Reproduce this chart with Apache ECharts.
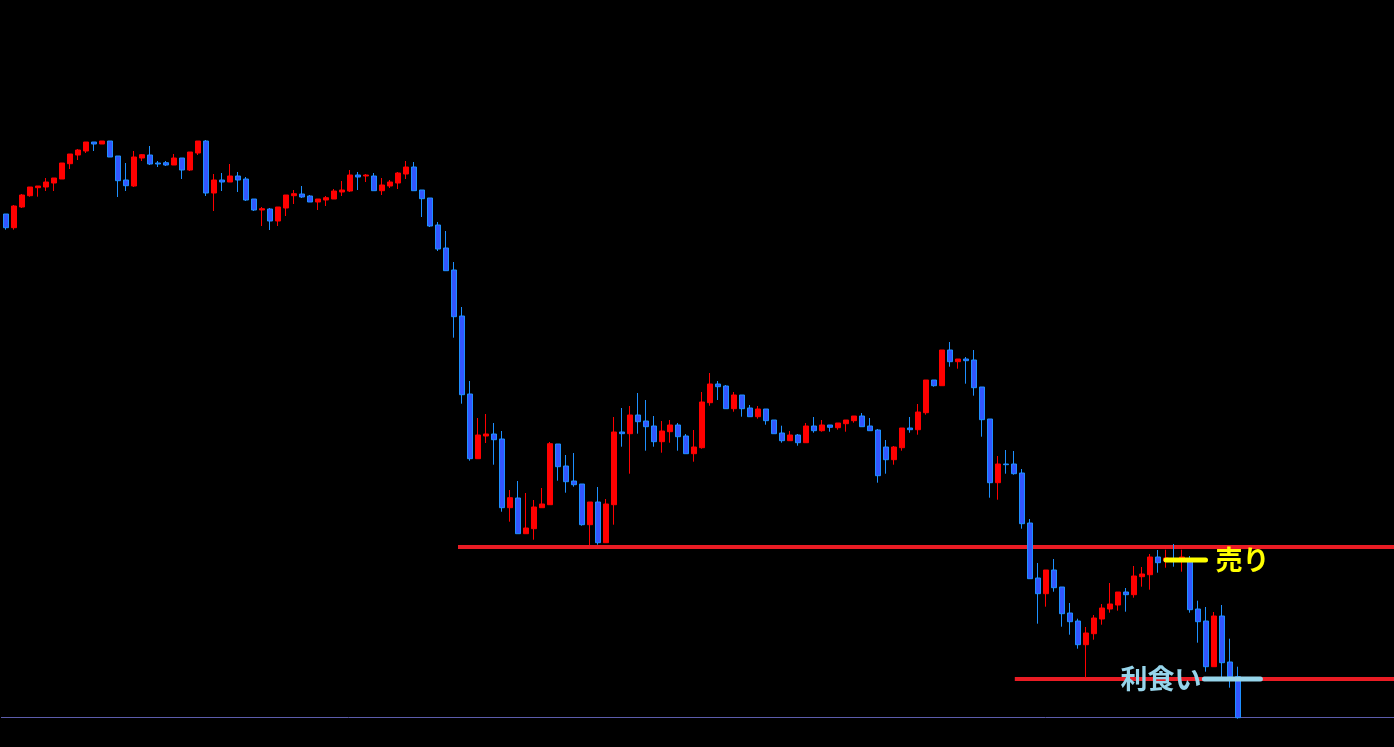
<!DOCTYPE html>
<html>
<head>
<meta charset="utf-8">
<script src="https://cdn.jsdelivr.net/npm/echarts@6/dist/echarts.min.js"></script>
<style>
html,body{margin:0;padding:0;background:#000;}
#chart{width:1394px;height:747px;}
</style>
</head>
<body>
<div id="chart"></div>
<script>
// candle data: [open, close, low, high] (price units, 0 = bottom axis line)
const candles = [
[503,489.3,487.3,503],[489.3,511,487.3,512],[510,522,509,523],[521.3,530,520.3,530],
[529.3,531,520.3,531],[530,535,526,539],[534,539,526,539],[538,554,538,554],[553.3,563,548,563],
[562,567,557,568],[566,575,564,575],[575,573,566,575],[573,576,573,576],[576,560,560,576],
[561,536.3,520,561],[537,531.3,526,554],[531,560,530,566],[559,562.3,556,563],[562,553,552,571],
[554,553,550,556],[554.3,552,551,556],[552,559,552,563],[559,547,538,559],[547,565,546,565],
[564,576,562,576],[576,524,521,577],[524,537,506,543],[537,535,526,544],[535,541,535,553],
[541,537,525,545],[538,517,516,540],[518,507,506,518],[507,508.3,491,510],[508,496,487,509],
[496,510,491,510],[509,522,501,522],[521.3,523.3,513,527],[523,520,519,531],[521,515,515,522],
[515,518,507,518],[517,519.3,511,521],[518,526,518,528],[525,527,521,536],[526,542,525,547],
[542,540,527,545],[541,542,535,543],[541,526.3,526.3,544],[526.3,532,522,539],[531,535,529,537],
[534,544,528,545],[543,550,538,556],[550,526.3,526.3,555],[527,518.3,500,527],[519,491,490,519],
[492,468,466,495],[469,446.3,446.3,486],[447,400.3,379.3,455],[401,322.3,313.3,410],[323,258.3,256.3,336],
[258.3,282,258.3,299],[281,283,274,303],[283,277.3,252.3,294],[278,209.3,205.3,286],[209.3,219.3,195.3,227],
[219,183.3,183.3,236],[183.3,189,183.3,224],[188.3,210,177.3,217],[209.3,213,209.3,229],[212.3,273.3,212.3,275],
[273,250.3,236.3,273],[251,235.3,224.3,262],[236,232.3,230.3,264],[233,192.3,191.3,233],[192.3,215,172,215],
[215,174.3,172.3,230],[174.3,213,174.3,218],[212.3,285,192.3,300],[285,283.3,270.3,309],[283.3,302,243.3,311],
[302,295.3,283.3,324],[296,290.3,266.3,317],[291,275.3,270.3,301],[275.3,286,264.3,296],[285.3,292,274.3,297],
[292,280.3,266.3,294],[281,263.3,263.3,283],[263.3,270,255.3,287],[269.3,315,268.3,325],[314.3,333,311.3,344],
[333,330.3,317,336],[331,308.3,308.3,332],[308.3,322,305.3,325],[322,308.3,300.3,322],[309,300.3,300.3,312],
[300.3,308,298.3,311],[308,296.3,292.3,308],[297,283.3,283.3,297],[284,276.3,274.3,291.3],[276.3,282,276.3,286],
[282,274.3,271.3,283],[274.3,291,274.3,294],[291,286.3,284.3,300],[286.3,292,285.3,297],[292,289.7,285.3,292],
[289.3,294,287.3,294],[293.3,297,285.3,297],[296.3,301,294.3,301],[301,290.3,290.3,304],[291,286.3,286.3,299],
[287,241.3,234.3,288],[270,257.3,243.3,277],[257.3,270,252.3,271],[269.3,289,266.3,289],[289,287.3,284.3,300],
[287.3,305,282.3,313],[304.3,337,302.3,337],[337,331.3,330.3,337],[331.3,367,331.3,367],[367,355.3,350.3,375],
[355.3,358,348.3,358],[358,356.3,333.3,360],[357,329.3,321.3,367],[330,297.3,280.3,330],[298,234.3,219.3,298],
[234.3,253,217.3,261],[253,252.3,243.3,267],[253,243.3,242.3,266],[244,193.3,188.3,248],[194,138.3,138.3,198],
[139,123.3,93.3,154],[123.3,147,110.3,147],[147,129.3,125.3,158],[130,103.3,90.3,130],[104,95.3,82.3,114],
[96,72.3,68.3,98.3],[72.3,84,39.3,90],[83.3,99,77.3,102],[98,109,92.3,113],[108,113,104.3,134],
[112,125,106.3,125],[125,122.3,105.3,129],[122.3,141,119.3,151],[140.3,143,130.3,150],[142.3,160,127.3,163],
[160,154.3,144.3,167],[156,159,149.3,167.3],[158,156,150.3,173],[156,160,145.3,167.3],[155.3,107.3,104.3,161],
[108,95.3,74.3,116.3],[96,50.3,45.3,110],[50.3,101,50.3,105],[101,54.3,37,112],[55,40.3,29.3,78.3],
[40.3,-0.7,-1.7,50.3]
];
const totalSlots = 174;
const categories = Array.from({length: totalSlots}, (_, i) => 'T' + i);

// horizontal level lines: [startIndex, endIndex, level]
const baseLine = [-0.75, 173.5, -0.5];
const resistanceLine = [56.5, 173.5, 170];
const targetLine = [126.1, 173.5, 38];
const sellLine = [145.0, 149.94, 157];
const takeProfitLine = [149.8, 156.8, 38];
const sellLabel = '売り';
const takeProfitLabel = '利食い';

function seg(a) { return [[a[0], a[2]], [a[1], a[2]]]; }

const chart = echarts.init(document.getElementById('chart'), null, {renderer: 'canvas'});
chart.setOption({
  backgroundColor: '#000000',
  animation: false,
  grid: {left: 2, right: 0, top: 0, bottom: 0},
  xAxis: [
    {type: 'category', data: categories, boundaryGap: true,
     axisLine: {show: false}, axisTick: {show: false}, axisLabel: {show: false}, splitLine: {show: false}},
    {type: 'value', min: -0.5, max: totalSlots - 0.5, show: false}
  ],
  yAxis: {type: 'value', min: -30, max: 717, show: false, splitLine: {show: false},
          axisLine: {show: false}},
  series: [
    {type: 'line', xAxisIndex: 1, data: seg(baseLine), symbol: 'none', clip: false,
     lineStyle: {color: '#5c5cac', width: 1}, z: 0},
    {type: 'line', xAxisIndex: 1, data: seg(resistanceLine), symbol: 'none',
     lineStyle: {color: '#ea1c24', width: 4}, z: 1},
    {type: 'line', xAxisIndex: 1, data: seg(targetLine), symbol: 'none',
     lineStyle: {color: '#ea1c24', width: 4}, z: 1},
    {type: 'candlestick', xAxisIndex: 0, data: candles, barWidth: 5, clip: false,
     itemStyle: {color: '#ff0000', borderColor: '#ff0000', color0: '#3356ff', borderColor0: '#1e90ff', borderWidth: 1},
     z: 2},
    {type: 'line', xAxisIndex: 1, symbol: 'circle', symbolSize: 0, showSymbol: true,
     itemStyle: {color: '#ffff00'},
     data: [{value: [sellLine[0], sellLine[2]]},
            {value: [sellLine[1], sellLine[2]],
             label: {show: true, position: 'right', distance: 10, formatter: sellLabel,
                     color: '#ffff00', fontSize: 27, fontWeight: 'bold',
                     fontFamily: 'Noto Sans CJK JP'}}],
     lineStyle: {color: '#ffff00', width: 5, cap: 'round'}, z: 3},
    {type: 'line', xAxisIndex: 1, symbol: 'circle', symbolSize: 0, showSymbol: true,
     itemStyle: {color: '#96d4ea'},
     data: [{value: [takeProfitLine[0], takeProfitLine[2]],
             label: {show: true, position: 'left', distance: 3, formatter: takeProfitLabel,
                     color: '#96d4ea', fontSize: 27, fontWeight: 'bold',
                     fontFamily: 'Noto Sans CJK JP'}},
            {value: [takeProfitLine[1], takeProfitLine[2]]}],
     lineStyle: {color: '#96d4ea', width: 5, cap: 'round'}, z: 3}
  ]
});
</script>
</body>
</html>
